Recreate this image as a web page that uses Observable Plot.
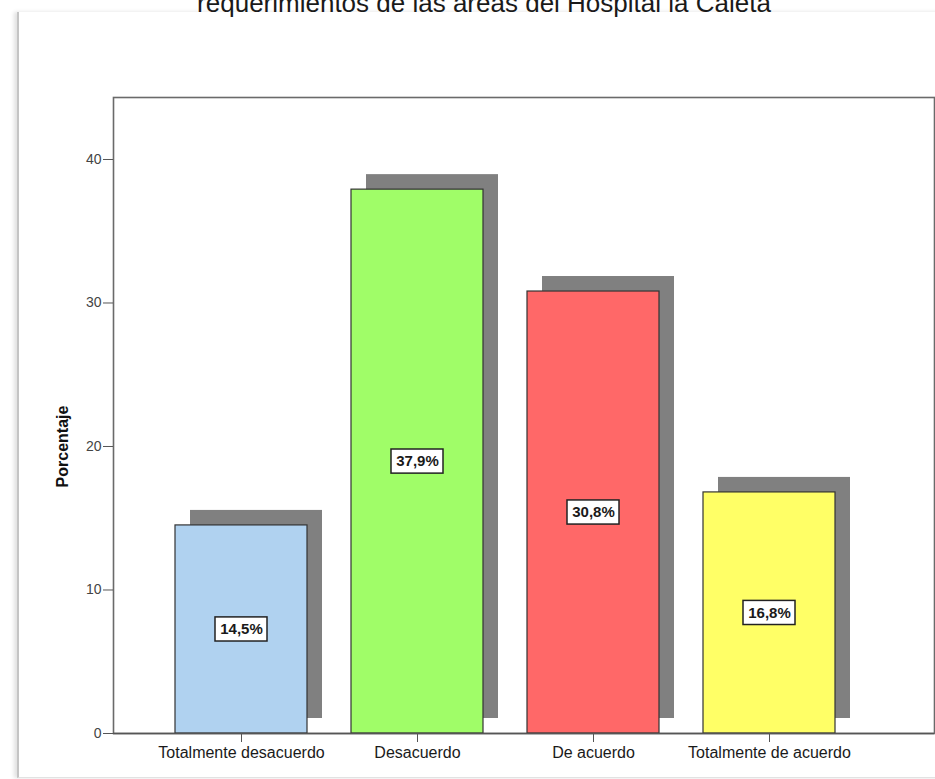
<!DOCTYPE html>
<html>
<head>
<meta charset="utf-8">
<script src="https://cdn.jsdelivr.net/npm/d3@7"></script>
<script src="https://cdn.jsdelivr.net/npm/@observablehq/plot@0.6"></script>
<style>
  body { margin: 0; background: #fff; }
  #page { position: relative; width: 935px; height: 779px; overflow: hidden; background: #fff; font-family: "Liberation Sans", Arial, sans-serif; }
  #title { position: relative; height: 22px; overflow: hidden; }
  #title span { position: absolute; left: 0; right: 0; top: -10px; text-align: center; font-size: 26px; line-height: 26px; color: #1a1a1a; white-space: nowrap; padding-left: 33px; }
  #sheet { position: absolute; left: 17px; top: 12px; width: 940px; height: 765px; border-left: 2px solid #c4c4c4; border-bottom: 1px solid #e2e2e2; box-shadow: -3px 0 4px rgba(0,0,0,0.12); pointer-events: none; }
  #chart svg { display: block; }
</style>
</head>
<body>
<div id="page">
  <div id="sheet"></div>
  <div id="title"><span>requerimientos de las áreas del Hospital la Caleta</span></div>
  <div id="chart"></div>
</div>
<script>
// Response categories, percentages and bar colours
const categories = ["Totalmente desacuerdo", "Desacuerdo", "De acuerdo", "Totalmente de acuerdo"];
const percents = [14.5, 37.9, 30.8, 16.8];
const labels = ["14,5%", "37,9%", "30,8%", "16,8%"];
const colors = ["#b0d2f0", "#a0fd68", "#ff6868", "#ffff66"];
const yTicks = [0, 10, 20, 30, 40];

const data = categories.map((c, i) => ({cat: c, v: percents[i], label: labels[i], color: colors[i]}));

const boxHalf = 0.84; // half height of the value boxes, in percent units

const chart = Plot.plot({
  width: 935,
  height: 757,
  marginLeft: 113,
  marginRight: 1,
  marginTop: 75,
  marginBottom: 46,
  style: {fontFamily: "'Liberation Sans', Arial, sans-serif", background: "#fff", overflow: "visible"},
  x: {domain: categories, range: [153, 857], paddingInner: 0.25, paddingOuter: 0.125, label: null},
  y: {domain: [0, 44.32], nice: false, label: null},
  marks: [
    Plot.frame({stroke: "#6a6a6a", strokeWidth: 1.6}),
    // drop shadows behind the bars
    Plot.barY(data, {x: "cat", y: "v", dx: 15, dy: -15, fill: "#808080"}),
    Plot.barY(data, {x: "cat", y: "v", fill: "color", stroke: "#333", strokeWidth: 1.2}),
    // value boxes centred on each bar
    Plot.barY(data, {x: "cat", y1: d => d.v / 2 - boxHalf, y2: d => d.v / 2 + boxHalf, insetLeft: 40, insetRight: 40, fill: "#fff", stroke: "#222", strokeWidth: 1.5}),
    Plot.text(data, {x: "cat", y: d => d.v / 2, text: "label", fontWeight: "bold", fontSize: 15, fill: "#1a1a1a"}),
    Plot.ruleY([0], {stroke: "#555", strokeWidth: 1.6}),
    Plot.axisY({ticks: yTicks, tickSize: 10, tickPadding: 2, fontSize: 14, color: "#444", stroke: "#555",
      label: "Porcentaje", labelAnchor: "center", labelArrow: false, labelOffset: 57}),
    Plot.axisX({tickSize: 9, tickPadding: 4, fontSize: 16, color: "#1a1a1a", stroke: "#555", label: null})
  ]
});

// bold axis title, set a little below the frame's middle
d3.select(chart).selectAll("g[aria-label='y-axis label']")
  .attr("transform", function () { return (this.getAttribute("transform") || "") + " translate(0,31)"; })
  .selectAll("text").attr("font-weight", "bold").attr("font-size", 16).attr("fill", "#111");
document.getElementById("chart").appendChild(chart);
</script>
</body>
</html>
